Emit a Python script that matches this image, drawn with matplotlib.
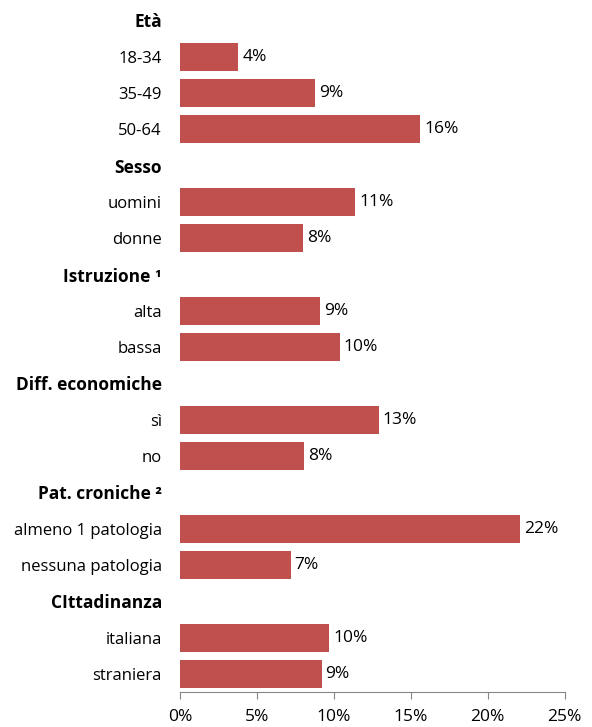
import numpy as np
import matplotlib.pyplot as plt

plt.rcParams['font.family'] = ['Open Sans', 'DejaVu Sans']

# rows, top to bottom; None = group header (no bar)
labels = ["Età", "18-34", "35-49", "50-64",
          "Sesso", "uomini", "donne",
          "Istruzione ¹", "alta", "bassa",
          "Diff. economiche", "sì", "no",
          "Pat. croniche ²", "almeno 1 patologia", "nessuna patologia",
          "CIttadinanza", "italiana", "straniera"]
values = [None, 3.8, 8.8, 15.6,
          None, 11.4, 8.0,
          None, 9.1, 10.4,
          None, 12.9, 8.05,
          None, 22.1, 7.2,
          None, 9.7, 9.2]
xticks = [0, 5, 10, 15, 20, 25]

bar_color = "#C0504D"

fig = plt.figure(figsize=(5.92, 7.27), dpi=100)
ax = fig.add_axes([0.304, 0.048, 0.650, 0.949])

y = np.arange(len(labels))
for yi, v in zip(y, values):
    if v is None:
        continue
    ax.barh(yi, v, height=0.77, color=bar_color)
    ax.text(v + 0.25, yi, f"{v:.0f}%", va="center", ha="left", fontsize=12.5)

ax.set_ylim(len(labels) - 0.5, -0.5)
ax.set_xlim(0, 25)
ax.set_yticks(y)
ax.set_yticklabels(labels, fontsize=12)
for lab, v in zip(ax.get_yticklabels(), values):
    if v is None:
        lab.set_fontweight("bold")
        lab.set_fontsize(12.5)
ax.tick_params(axis="y", length=0, pad=13)

ax.set_xticks(xticks)
ax.set_xticklabels([f"{t}%" for t in xticks], fontsize=12.5)
ax.tick_params(axis="x", direction="out", length=5, color="#868686", pad=7)

for s in ["top", "right", "left"]:
    ax.spines[s].set_visible(False)
ax.spines["bottom"].set_color("#868686")

fig.savefig("out.png", dpi=100)
